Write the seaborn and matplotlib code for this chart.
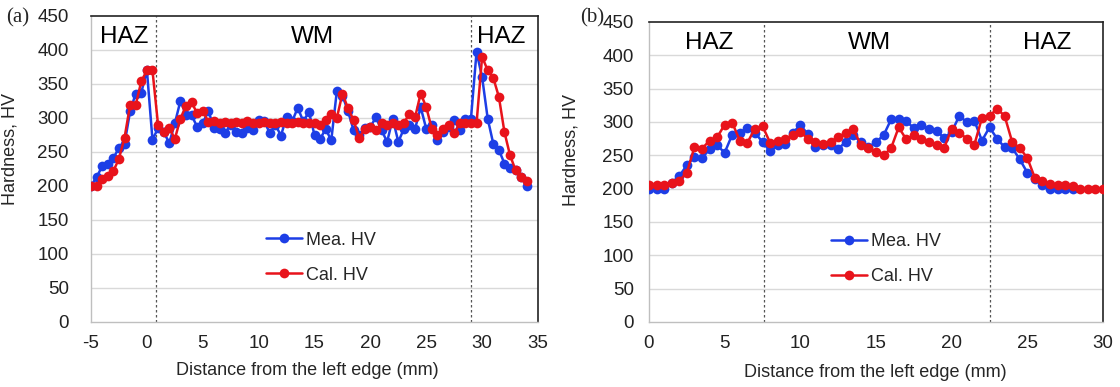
import numpy as np
import pandas as pd
import matplotlib
matplotlib.use("Agg")
import matplotlib.pyplot as plt
import seaborn as sns

# ---------------- data ----------------
x_a = [-5 + 0.5 * i for i in range(79)]  # -5 ... 34
mea_a = [200, 213, 229, 232, 241, 256, 262, 310, 336, 337,
         371, 268, 285, 280, 263, 292, 325, 305, 304, 287,
         292, 311, 285, 284, 278, 290, 280, 278, 285, 282,
         297, 295, 278, 290, 274, 302, 295, 315, 295, 309,
         275, 269, 284, 267, 340, 333, 310, 282, 275, 285,
         287, 301, 282, 265, 299, 265, 284, 290, 284, 316,
         284, 290, 267, 280, 287, 297, 282, 299, 299, 397,
         360, 299, 262, 253, 233, 226, 223, 213, 200]
cal_a = [200, 200, 210, 215, 222, 240, 271, 319, 319, 354,
         370, 370, 290, 280, 286, 269, 299, 318, 323, 307,
         311, 294, 296, 293, 294, 292, 294, 293, 295, 292,
         293, 294, 292, 293, 294, 292, 293, 294, 292, 293,
         292, 290, 297, 306, 300, 336, 314, 297, 270, 284,
         287, 282, 292, 290, 292, 290, 293, 306, 301, 336,
         316, 284, 275, 284, 289, 278, 292, 292, 292, 292,
         390, 370, 359, 331, 279, 245, 223, 213, 208]

x_b_mea = [0.5 * i for i in range(57)]  # 0 ... 28
mea_b = [199, 199, 199, 209, 219, 235, 248, 246, 259, 265,
         254, 281, 284, 291, 284, 270, 256, 265, 267, 284,
         295, 282, 262, 266, 266, 260, 270, 280, 270, 262,
         270, 280, 304, 304, 301, 291, 295, 289, 287, 276,
         285, 309, 300, 302, 272, 292, 275, 262, 261, 244,
         224, 215, 205, 199, 199, 199, 199]
x_b_cal = [0.5 * i for i in range(61)]  # 0 ... 30
cal_b = [205, 206, 206, 209, 212, 224, 262, 260, 272, 277,
         296, 299, 272, 269, 290, 294, 269, 272, 275, 280,
         285, 275, 270, 267, 270, 277, 284, 289, 266, 261,
         255, 250, 261, 292, 274, 280, 274, 270, 265, 261,
         290, 284, 275, 266, 306, 309, 320, 309, 270, 261,
         246, 216, 211, 207, 206, 205, 204, 200, 200, 200, 200]

series_names = ["Mea. HV", "Cal. HV"]
zone_labels = ["HAZ", "WM", "HAZ"]
xticks_a = [-5, 0, 5, 10, 15, 20, 25, 30, 35]
xticks_b = [0, 5, 10, 15, 20, 25, 30]
yticks = [0, 50, 100, 150, 200, 250, 300, 350, 400, 450]
boundaries_a = [0.8, 29.0]
boundaries_b = [7.6, 22.5]
zone_x_a = [-2.0, 14.8, 31.7]
zone_x_b = [3.95, 14.6, 26.3]

df_a = pd.DataFrame({"x": x_a + x_a,
                     "HV": mea_a + cal_a,
                     "series": [series_names[0]] * len(x_a) + [series_names[1]] * len(x_a)})
df_b = pd.DataFrame({"x": x_b_mea + x_b_cal,
                     "HV": mea_b + cal_b,
                     "series": [series_names[0]] * len(x_b_mea) + [series_names[1]] * len(x_b_cal)})

# ---------------- style ----------------
sns.set_style("white")
plt.rcParams["font.family"] = ["Liberation Sans", "DejaVu Sans"]

BLUE = "#1d3ee6"
RED = "#e8131b"
palette = {series_names[0]: BLUE, series_names[1]: RED}

fig = plt.figure(figsize=(11.2, 3.87), dpi=100)
ax_a = fig.add_axes([91 / 1120, 1 - 322 / 387, 447 / 1120, 306 / 387])
ax_b = fig.add_axes([649 / 1120, 1 - 322 / 387, 454 / 1120, 300 / 387])


def draw(ax, df, xlim, xticks, bounds, zone_x, leg_x, ypad):
    for yt in yticks[1:-1]:
        ax.axhline(yt, color="#d9d9d9", lw=1.0, zorder=0)
    sns.lineplot(data=df, x="x", y="HV", hue="series", palette=palette,
                 hue_order=series_names, marker="o", markersize=7,
                 markeredgewidth=0, linewidth=1.8, ax=ax, sort=False,
                 estimator=None, zorder=3)
    for b in bounds:
        ax.axvline(b, color="#555555", lw=0.9, ls=(0, (2, 2)), zorder=2)
    for zx, zl in zip(zone_x, zone_labels):
        ax.text(zx, 419, zl, ha="center", va="center", fontsize=17.5, color="black")
    ax.set_xlim(*xlim)
    ax.set_ylim(0, 450)
    ax.set_xticks(xticks)
    ax.set_xticklabels([str(t) for t in xticks])
    ax.set_yticks(yticks)
    ax.set_yticklabels([str(t) for t in yticks])
    ax.tick_params(axis="both", length=0, labelsize=13.5, colors="#222222")
    ax.tick_params(axis="y", pad=ypad)
    ax.tick_params(axis="x", pad=9)
    ax.set_xlabel("Distance from the left edge (mm)", fontsize=13)
    ax.set_ylabel("Hardness, HV", fontsize=13)
    for s in ["left", "bottom"]:
        ax.spines[s].set_color("#bfbfbf")
        ax.spines[s].set_linewidth(1.0)
    for s in ["top", "right"]:
        ax.spines[s].set_color("#222222")
        ax.spines[s].set_linewidth(1.2)
    ax.legend(frameon=False, loc="center left", bbox_to_anchor=(leg_x, 0.21),
              fontsize=13, handlelength=2.0, handletextpad=0.2,
              labelspacing=1.0, borderaxespad=0)


draw(ax_a, df_a, (-5, 35), xticks_a, boundaries_a, zone_x_a, 0.375, 16)
draw(ax_b, df_b, (0, 30), xticks_b, boundaries_b, zone_x_b, 0.385, 11)

ax_a.yaxis.set_label_coords(-0.162, 0.565)
ax_a.xaxis.set_label_coords(0.483, -0.13)
ax_b.yaxis.set_label_coords(-0.152, 0.573)
ax_b.xaxis.set_label_coords(0.498, -0.14)

fig.text(6 / 1120, 1 - 18 / 387, "(a)", family=["Liberation Serif", "DejaVu Serif"],
         fontsize=15, va="center", ha="left")
fig.text(580 / 1120, 1 - 18 / 387, "(b)", family=["Liberation Serif", "DejaVu Serif"],
         fontsize=15, va="center", ha="left")

fig.savefig("out.png", dpi=100)
